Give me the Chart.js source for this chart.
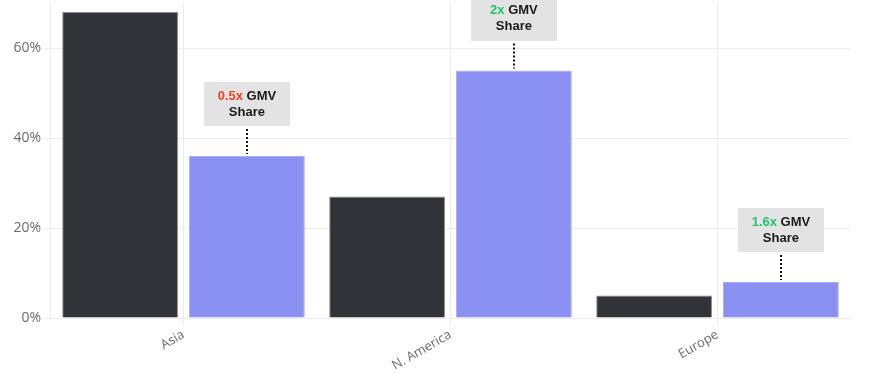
<!DOCTYPE html>
<html>
<head>
<meta charset="utf-8">
<script src="https://cdn.jsdelivr.net/npm/chart.js@4/dist/chart.umd.min.js"></script>
<style>
  html, body { margin: 0; padding: 0; background: #ffffff; }
  #wrap { width: 872px; height: 374px; }
</style>
</head>
<body>
<div id="wrap"><canvas id="c" width="872" height="374"></canvas></div>
<script>
const categories = ["Asia", "N. America", "Europe"];
const darkSeries = [68, 27, 5];
const gmvShare = [36, 55, 8];
const multiplierLabels = ["0.5x", "2x", "1.6x"];
const multiplierColors = ["#f2431f", "#22c46b", "#22c46b"];
const yTicks = [0, 20, 40, 60];

const annotationPlugin = {
  id: 'gmvAnnotations',
  afterDatasetsDraw(chart) {
    const ctx = chart.ctx;
    const meta = chart.getDatasetMeta(1);
    meta.data.forEach((bar, i) => {
      const x = bar.x;
      const top = bar.y;
      const boxW = 86, boxH = 44, gap = 30;
      const boxBottom = top - gap;
      const boxTop = boxBottom - boxH;
      ctx.save();
      ctx.fillStyle = '#e3e3e3';
      ctx.fillRect(Math.round(x - boxW / 2), Math.round(boxTop), boxW, boxH);
      ctx.strokeStyle = '#111111';
      ctx.lineWidth = 2;
      ctx.setLineDash([2, 2]);
      ctx.beginPath();
      ctx.moveTo(Math.round(x), boxBottom + 3);
      ctx.lineTo(Math.round(x), top - 2);
      ctx.stroke();
      ctx.setLineDash([]);
      ctx.font = 'bold 13px "Liberation Sans", Arial, sans-serif';
      ctx.textBaseline = 'middle';
      const cy = boxTop + boxH / 2;
      const m = multiplierLabels[i];
      const rest = ' GMV';
      const w1 = ctx.measureText(m).width;
      const w2 = ctx.measureText(rest).width;
      let sx = x - (w1 + w2) / 2;
      ctx.textAlign = 'left';
      ctx.fillStyle = multiplierColors[i];
      ctx.fillText(m, sx, cy - 8);
      ctx.fillStyle = '#1a1a1a';
      ctx.fillText(rest, sx + w1, cy - 8);
      ctx.textAlign = 'center';
      ctx.fillText('Share', x, cy + 8);
      ctx.restore();
    });
  }
};

new Chart(document.getElementById('c'), {
  type: 'bar',
  data: {
    labels: categories,
    datasets: [
      {
        data: darkSeries,
        backgroundColor: '#323338',
        borderColor: '#8c8c90',
        borderWidth: 1,
        categoryPercentage: 0.95,
        barPercentage: 0.913
      },
      {
        data: gmvShare,
        backgroundColor: '#8b91f2',
        borderColor: '#a9adf6',
        borderWidth: 1,
        categoryPercentage: 0.95,
        barPercentage: 0.913
      }
    ]
  },
  options: {
    responsive: false,
    animation: false,
    layout: { padding: { top: 3, right: 21, left: 0, bottom: 0 } },
    plugins: {
      legend: { display: false },
      tooltip: { enabled: false }
    },
    scales: {
      x: {
        offset: true,
        grid: {
          offset: false,
          color: '#ececec',
          lineWidth: 1,
          drawTicks: true,
          tickLength: 7
        },
        border: { display: false },
        ticks: {
          minRotation: 30,
          maxRotation: 30,
          padding: 2,
          color: '#6b6b6b',
          font: { family: '"Open Sans", sans-serif', size: 13 }
        },
        afterFit(scale) {
          scale.height = 56;
          scale.paddingLeft = 0;
          scale.paddingRight = 0;
        }
      },
      y: {
        min: 0,
        max: 70,
        ticks: {
          stepSize: 20,
          padding: 3,
          color: '#6b6b6b',
          font: { family: '"Open Sans", sans-serif', size: 14 },
          callback: (v) => v + '%'
        },
        afterBuildTicks(scale) {
          scale.ticks = yTicks.map(v => ({ value: v }));
        },
        grid: {
          color: '#ececec',
          lineWidth: 1,
          tickLength: 6
        },
        border: { display: true, color: '#ececec' },
        afterFit(scale) {
          scale.width = 50;
          scale.paddingTop = 0;
          scale.paddingBottom = 0;
        }
      }
    }
  },
  plugins: [annotationPlugin]
});
</script>
</body>
</html>
